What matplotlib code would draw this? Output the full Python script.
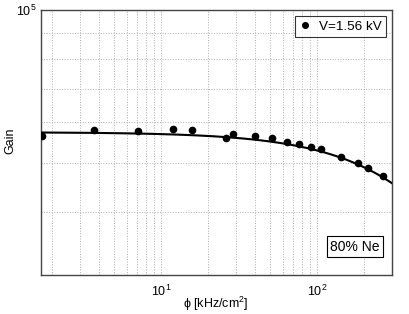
import numpy as np
import matplotlib
matplotlib.use("Agg")
import matplotlib.pyplot as plt
from matplotlib.ticker import FixedLocator, NullFormatter, FixedFormatter

plt.rcParams['font.family'] = ['Liberation Sans', 'DejaVu Sans']
plt.rcParams['mathtext.fontset'] = 'custom'
plt.rcParams['mathtext.rm'] = 'Liberation Sans'
plt.rcParams['mathtext.it'] = 'Liberation Sans'
plt.rcParams['mathtext.bf'] = 'Liberation Sans:bold'

# measured data
phi = [1.73, 3.70, 7.14, 11.9, 15.8, 25.9, 29.0, 39.6, 50.9, 63.5, 76.6, 90.8,
       104.7, 142, 181.6, 209.5, 263.8]
gain = [5.65e4, 5.80e4, 5.78e4, 5.83e4, 5.80e4, 5.58e4, 5.68e4, 5.65e4, 5.58e4,
        5.50e4, 5.44e4, 5.37e4, 5.32e4, 5.13e4, 4.99e4, 4.88e4, 4.71e4]

# fit curve parameters G = G0 / (1 + c*phi)
G0 = 5.74e4
c = 8.7e-4

legend_label = "V=1.56 kV"
annot = "80% Ne"

fig = plt.figure(figsize=(4.09, 3.14), dpi=100)
ax = fig.add_axes([41/409, 39/314, 351/409, 265/314])
ax.set_xscale('log')
ax.set_yscale('log')
ax.set_xlim(1.7, 300)
ax.set_ylim(3e4, 1e5)

xf = np.logspace(np.log10(1.7), np.log10(300), 200)
ax.plot(xf, G0 / (1 + c * xf), color='black', lw=1.5, zorder=3)
ax.plot(phi, gain, 'o', color='black', ms=4.5, label=legend_label, zorder=4)

# ticks
ax.xaxis.set_major_locator(FixedLocator([10, 100]))
ax.xaxis.set_major_formatter(FixedFormatter([r'$10^1$', r'$10^2$']))
xminor = [v * d for d in [1, 10, 100] for v in range(2, 10) if 1.7 <= v * d <= 300]
ax.xaxis.set_minor_locator(FixedLocator(xminor))
ax.xaxis.set_minor_formatter(NullFormatter())
ax.yaxis.set_major_locator(FixedLocator([1e5]))
ax.yaxis.set_major_formatter(FixedFormatter([r'$10^5$']))
ax.yaxis.set_minor_locator(FixedLocator([v * 1e4 for v in range(3, 10)]))
ax.yaxis.set_minor_formatter(NullFormatter())

ax.grid(True, which='both', linestyle=':', color='#b0b0b0', lw=0.7)
ax.tick_params(which='both', direction='in', length=0, labelsize=9, colors='black')
ax.tick_params(axis='x', pad=6)
for s in ax.spines.values():
    s.set_color('#444444')
    s.set_linewidth(1.0)

fig.text(216/409, 1 - 304/314, r'ϕ [kHz/cm$^2$]', ha='center', va='center', fontsize=9,
         family=['Liberation Sans', 'DejaVu Sans'])
fig.text(10.5/409, 1 - 141/314, 'Gain', rotation=90, ha='center', va='center', fontsize=9)

leg = ax.legend(loc='upper right', fontsize=9.7, frameon=True, fancybox=False,
                edgecolor='black', handlelength=0.9, handletextpad=0.6,
                borderpad=0.3, borderaxespad=0.45, markerscale=0.9)
leg.get_frame().set_linewidth(0.8)

ax.text(0.965, 0.08, annot, transform=ax.transAxes, ha='right', va='bottom',
        fontsize=10, bbox=dict(boxstyle='square,pad=0.25', fc='white', ec='black', lw=0.8))

fig.savefig('out.png', dpi=100)
